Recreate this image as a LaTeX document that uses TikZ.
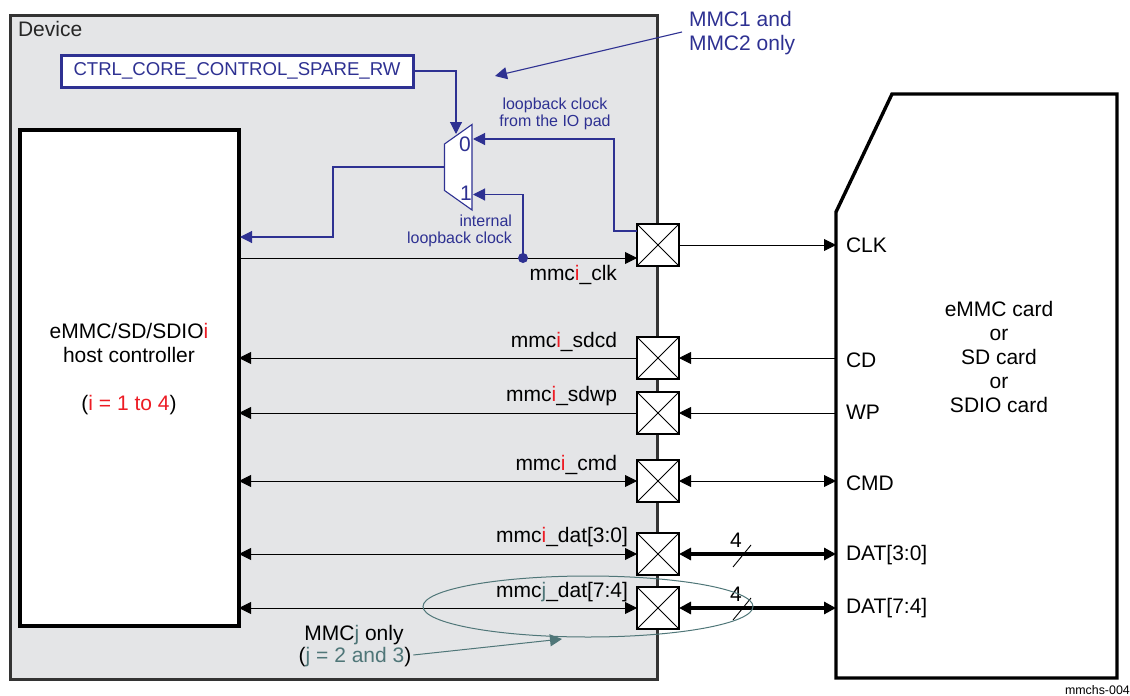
\documentclass[tikz,border=0pt]{standalone}
\usepackage{fontspec}
\setmainfont{Liberation Sans}
\usetikzlibrary{arrows.meta,calc}
\usetikzlibrary{positioning}
\usetikzlibrary{shapes.geometric}
\definecolor{devicegray}{HTML}{E4E5E7}
\definecolor{regblue}{HTML}{2E3192}
\definecolor{mmcred}{HTML}{ED1C24}
\definecolor{mmcteal}{HTML}{4F7678}
\newcommand{\mi}{\textcolor{mmcred}{i}}
\newcommand{\mj}{\textcolor{mmcteal}{j}}
\tikzset{
	txt/.style={font=\fontsize{21}{24}\selectfont, inner sep=0pt, outer sep=0pt},
	smalltxt/.style={font=\fontsize{16}{16.5}\selectfont, inner sep=0pt, outer sep=0pt, text=regblue},
	padbox/.style={draw=black, fill=white, line width=1.7pt, minimum size=42pt, inner sep=0pt, outer sep=0pt},
	sig/.style={line width=0.9pt, black},
	bus/.style={line width=3.4pt, black},
	blueline/.style={line width=1.1pt, regblue},
	tip/.tip={Triangle[length=12pt, width=12pt]},
}
\begin{document}
\begin{tikzpicture}[x=1pt, y=-1pt]

	\useasboundingbox (0,0) rectangle (1130,696);

	% === Device and blocks ===
	\node (device) [draw=black!80, fill=devicegray, line width=3pt, anchor=north west, minimum width=647pt, minimum height=664pt, outer sep=0pt] at (10,15) {};
	\node (devicelabel) [txt, text=black!85, anchor=west] at (18,29) {Device};
	\node (ctrl) [draw=regblue, fill=white, line width=3pt, anchor=north west, minimum width=352pt, minimum height=32pt, outer sep=0pt, text=regblue, inner sep=0pt, font=\fontsize{18.6}{20}\selectfont] at (61,55) {CTRL\_CORE\_CONTROL\_SPARE\_RW};
	\node (host) [draw=black, fill=white, line width=4pt, anchor=north west, minimum width=219pt, minimum height=496pt, outer sep=0pt] at (20,130) {};
	\node (hosttext) [txt, align=center] at (129,369) {eMMC/SD/SDIO\mi\\host controller\\ \\(\textcolor{mmcred}{i = 1 to 4})};

	% === Card ===
	\draw[line width=3.4pt, black, fill=white, line join=miter] (836,212) -- (892,94) -- (1117,94) -- (1117,678) -- (836,678) -- cycle;
	\coordinate (cardclk) at (836,245);
	\coordinate (cardcd) at (836,358);
	\coordinate (cardwp) at (836,413);
	\coordinate (cardcmd) at (836,481);
	\coordinate (carddatlo) at (836,554);
	\coordinate (carddathi) at (836,608);
	\node (cardtext) [txt, align=center] at (999,357) {eMMC card\\or\\SD card\\or\\SDIO card};

	% === Pads ===
	\foreach \name/\y in {clk/245, sdcd/358, sdwp/413, cmd/481, datlo/554, dathi/608} {
		\node (pad\name) [padbox] at (658,\y) {};
		\draw[line width=1pt] (pad\name.north west) -- (pad\name.south east);
		\draw[line width=1pt] (pad\name.south west) -- (pad\name.north east);
	}

	% === Signals, host side ===
	\coordinate (clkin) at (637,258);
	\draw[sig, -{tip}] (clkin -| host.east) -- (clkin);
	\draw[sig, {tip}-] (padsdcd.west -| host.east) -- (padsdcd.west);
	\draw[sig, {tip}-] (padsdwp.west -| host.east) -- (padsdwp.west);
	\foreach \name in {cmd, datlo, dathi} {
		\draw[sig, {tip}-{tip}] (pad\name.west -| host.east) -- (pad\name.west);
	}

	% === Signals, card side ===
	\draw[sig, -{tip}] (padclk.east) -- (cardclk);
	\draw[sig, {tip}-] (padsdcd.east) -- (cardcd);
	\draw[sig, {tip}-] (padsdwp.east) -- (cardwp);
	\draw[sig, {tip}-{tip}] (padcmd.east) -- (cardcmd);
	\draw[bus, {tip}-{tip}] (paddatlo.east) -- (carddatlo);
	\draw[bus, {tip}-{tip}] (paddathi.east) -- (carddathi);

	% === Bus width marks ===
	\coordinate (slashloa) at (733,567);	\coordinate (slashlob) at (751,545);
	\coordinate (slashhia) at (733,620);	\coordinate (slashhib) at (751,598);
	\draw[sig] (slashloa) -- (slashlob);
	\draw[sig] (slashhia) -- (slashhib);
	\node (widthlo) [txt] at (736,540) {4};
	\node (widthhi) [txt] at (736,594) {4};

	% === Mux ===
	\coordinate (muxtl) at (444.5,144);	\coordinate (muxtr) at (472,124.5);
	\coordinate (muxbr) at (472,210);	\coordinate (muxbl) at (444.5,190.5);
	\draw[blueline, fill=white] (muxtl) -- (muxtr) -- (muxbr) -- (muxbl) -- cycle;
	\coordinate (muxout) at (444.5,167);
	\coordinate (muxzero) at (473,139);
	\coordinate (muxone) at (473,194.5);
	\coordinate (muxsel) at (456,134);
	\node (zero) [txt, text=regblue] at (465,144.5) {0};
	\node (one) [txt, text=regblue] at (466,193.5) {1};
	\coordinate (hostin) at (240,237);
	\coordinate (padloop) at (637,231);
	\node (clkdot) [circle, fill=regblue, inner sep=0pt, minimum size=10pt] at (523,258) {};

	\draw[blueline, -{tip}] (ctrl.east) -| (muxsel);
	\draw[blueline, -{tip}] (muxout) -- (333,167) -- (333,237) -- (hostin);
	\draw[blueline, -{tip}] (padloop) -- (614,231) -- (614,139) -- (muxzero);
	\draw[blueline, -{tip}] (clkdot.center) |- (muxone);

	% === Blue notes ===
	\node (note) [txt, text=regblue, align=left, anchor=west] at (689,33) {MMC1 and\\MMC2 only};
	\coordinate (notetip) at (495,76);
	\draw[blueline, -{tip}] (682,32) -- (notetip);
	\node (padnote) [smalltxt, align=center] at (555,114) {loopback clock\\from the IO pad};
	\node (intnote) [smalltxt, align=right, anchor=east] at (512,231) {internal\\loopback clock};

	% === Signal names ===
	\foreach \name/\x/\y/\lab in {
		clk/617/275/{mmc\mi\_clk},
		sdcd/617/342/{mmc\mi\_sdcd},
		sdwp/617/396/{mmc\mi\_sdwp},
		cmd/617/465/{mmc\mi\_cmd},
		datlo/628/537/{mmc\mi\_dat[3:0]},
		dathi/628/592/{mmc\mj\_dat[7:4]}} {
		\node (lab\name) [txt, anchor=east] at (\x,\y) {\lab};
	}
	\foreach \name/\y/\lab in {
		clk/245/CLK, cd/360/CD, wp/412/WP, cmd/483/CMD, datlo/555/{DAT[3:0]}, dathi/608/{DAT[7:4]}} {
		\node (pin\name) [txt, anchor=west] at (846,\y) {\lab};
	}

	% === MMCj group ===
	\node (group) [ellipse, draw=mmcteal, line width=1pt, minimum width=330pt, minimum height=61pt, inner sep=0pt] at (588,606.5) {};
	\node (groupname) [txt] at (354,635) {MMC\mj{} only};
	\node (grouprange) [txt] at (355,657) {(\textcolor{mmcteal}{j = 2 and 3})};
	\coordinate (grouptip) at (562,639);
	\draw[line width=1pt, mmcteal, -{tip}] (grouprange.east) ++(2,-2) -- (grouptip);

	\node (figid) [inner sep=0pt, font=\fontsize{12.4}{14}\selectfont, anchor=east] at (1130,690) {mmchs-004};
\end{tikzpicture}
\end{document}
